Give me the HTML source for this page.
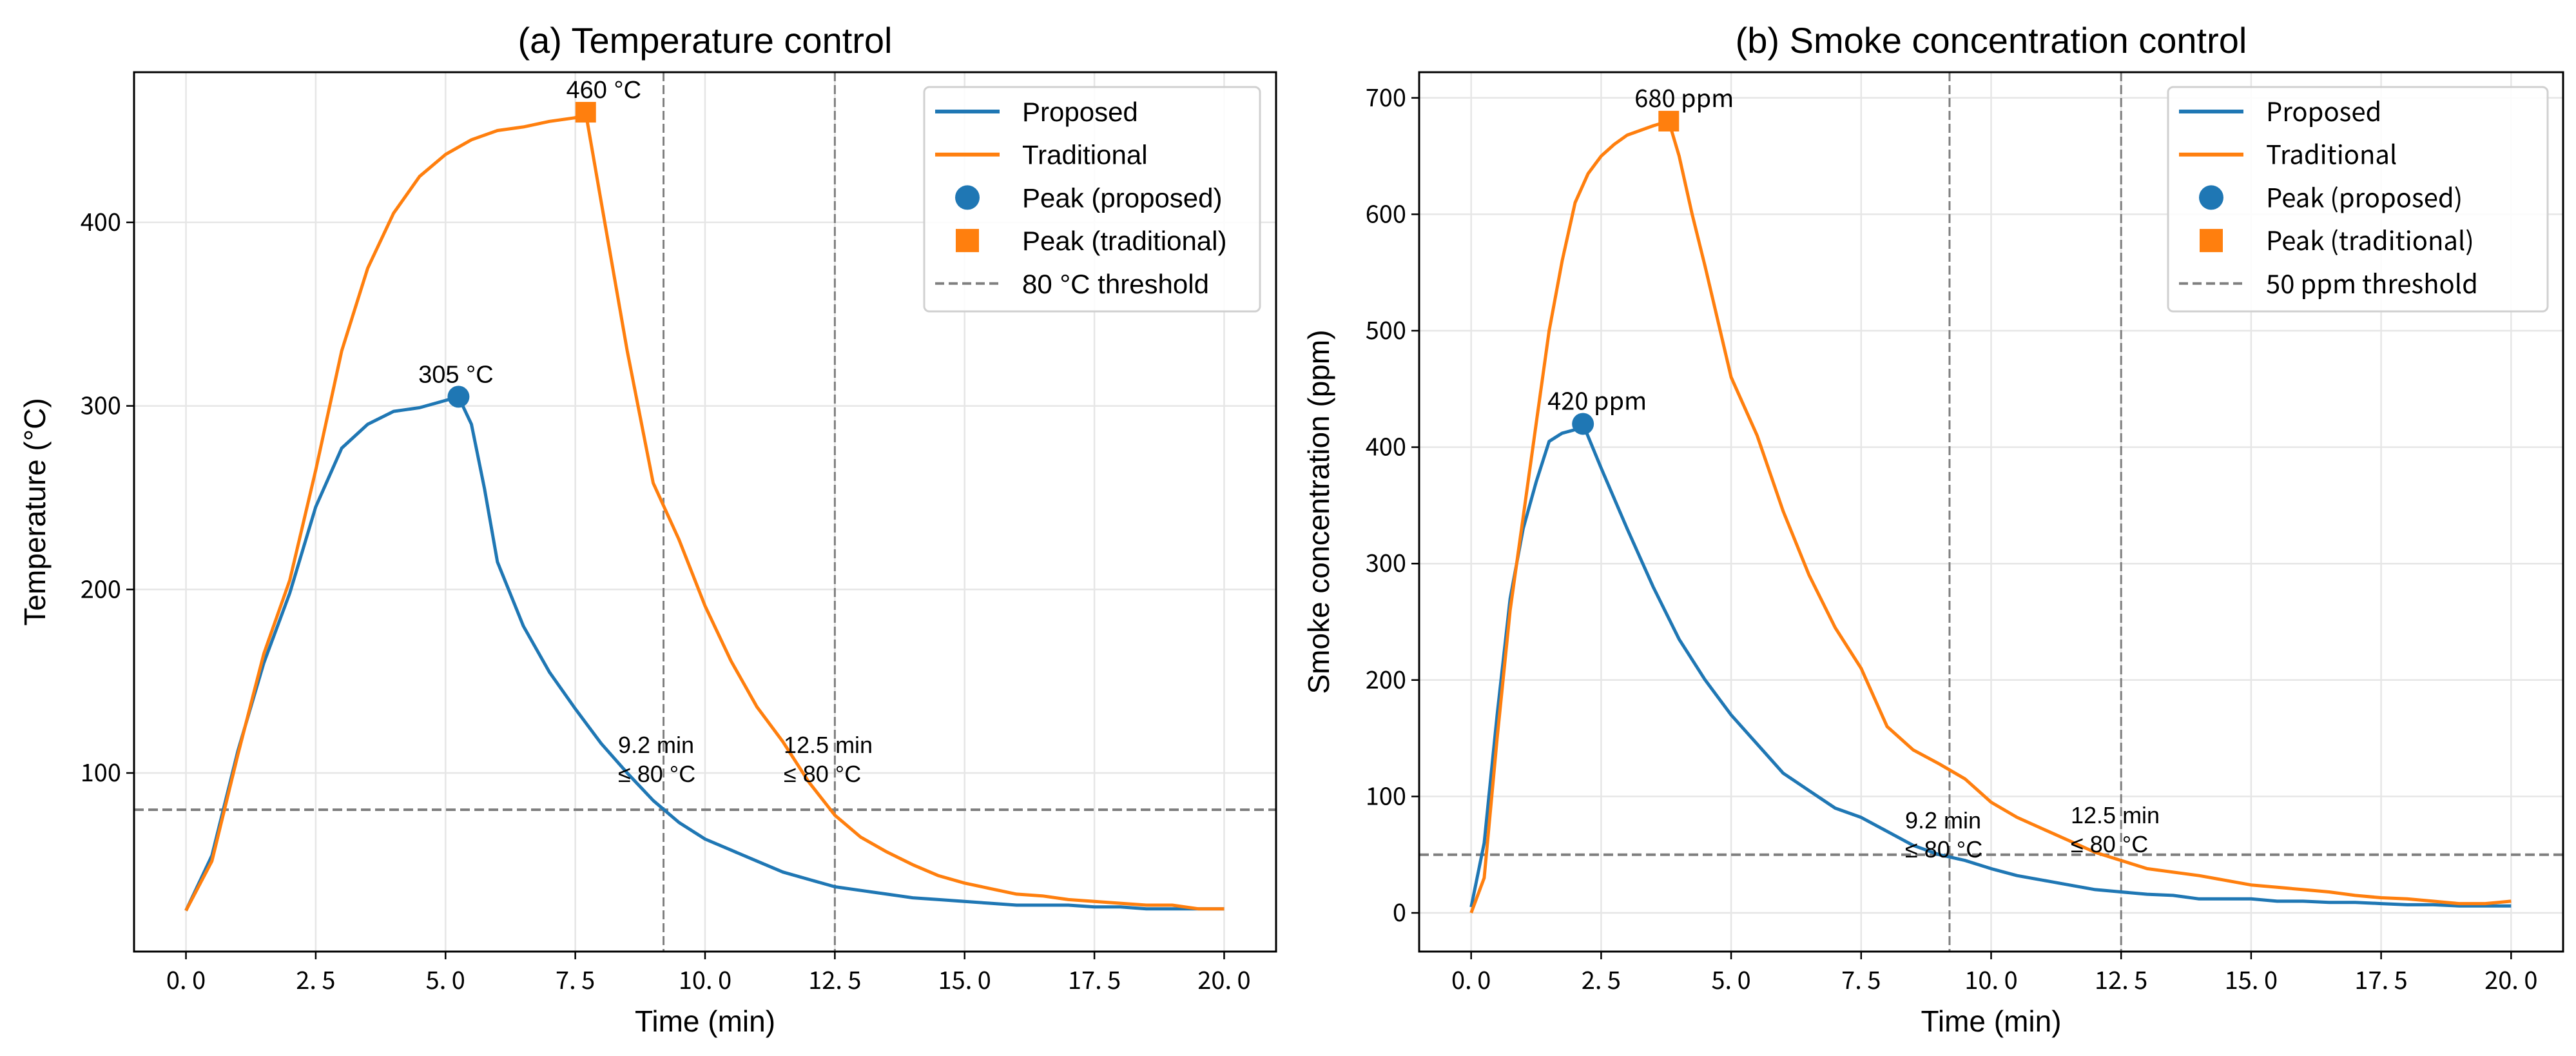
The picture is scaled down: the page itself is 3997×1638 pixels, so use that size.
<!DOCTYPE html>
<html><head><meta charset="utf-8"><style>
html,body{margin:0;padding:0;background:#fff;}
svg{display:block;}
text{font-family:"Liberation Sans","Noto Sans CJK SC",sans-serif;fill:#000;}
.cjk{font-family:"WenQuanYi Zen Hei","Noto Sans CJK SC",sans-serif;}
</style></head><body>
<svg id="chart" width="3997" height="1638" viewBox="0 0 3997 1638" xmlns="http://www.w3.org/2000/svg"></svg>
<script>
// ---- data ----
const tA = [0,0.5,1,1.5,2,2.5,3,3.5,4,4.5,5,5.25,5.5,5.75,6,6.5,7,7.5,8,8.5,9,9.5,10,10.5,11,11.5,12,12.5,13,13.5,14,14.5,15,15.5,16,16.5,17,17.5,18,18.5,19,19.5,20];
const tempProposed = [25,55,112,160,198,245,277,290,297,299,303,305,290,255,215,180,155,135,116,100,85,73,64,58,52,46,42,38,36,34,32,31,30,29,28,28,28,27,27,26,26,26,26];
const tB = [0,0.5,1,1.5,2,2.5,3,3.5,4,4.5,5,5.5,6,6.5,7,7.5,7.7,8,8.5,9,9.5,10,10.5,11,11.5,12,12.5,13,13.5,14,14.5,15,15.5,16,16.5,17,17.5,18,18.5,19,19.5,20];
const tempTraditional = [25,52,110,165,205,265,330,375,405,425,437,445,450,452,455,457,460,411,330,258,227,191,161,136,117,95,77,65,57,50,44,40,37,34,33,31,30,29,28,28,26,26];
const tC = [0,0.25,0.5,0.75,1,1.25,1.5,1.75,2,2.15,2.5,3,3.5,4,4.5,5,5.5,6,6.5,7,7.5,8,8.5,9,9.5,10,10.5,11,11.5,12,12.5,13,13.5,14,14.5,15,15.5,16,16.5,17,17.5,18,18.5,19,19.5,20];
const smokeProposed = [5,60,170,270,330,370,405,412,415,420,382,330,280,235,200,170,145,120,105,90,82,70,58,50,45,38,32,28,24,20,18,16,15,12,12,12,10,10,9,9,8,7,7,6,6,6];
const tD = [0,0.25,0.5,0.75,1,1.25,1.5,1.75,2,2.25,2.5,2.75,3,3.25,3.5,3.8,4,4.25,4.5,5,5.5,6,6.5,7,7.5,8,8.5,9,9.5,10,10.5,11,11.5,12,12.5,13,13.5,14,14.5,15,15.5,16,16.5,17,17.5,18,18.5,19,19.5,20];
const smokeTraditional = [0,30,150,260,340,420,500,560,610,635,650,660,668,672,676,680,650,600,555,460,410,345,290,245,210,160,140,128,115,95,82,72,62,52,45,38,35,32,28,24,22,20,18,15,13,12,10,8,8,10];
const xTicks = [0,2.5,5,7.5,10,12.5,15,17.5,20];
const yTicksA = [100,200,300,400];
const yTicksB = [0,100,200,300,400,500,600,700];

const NS="http://www.w3.org/2000/svg";
const svg=document.getElementById('chart');
function mk(tag,attrs,parent,txt){const e=document.createElementNS(NS,tag);for(const k in attrs)e.setAttribute(k,attrs[k]);if(txt!==undefined)e.textContent=txt;(parent||svg).appendChild(e);return e;}
const BLUE="#1f77b4",ORANGE="#ff7f0e";

function panel(o){
  const g=mk('g',{});
  
  
  const X=v=>o.x0+(v-o.xmin)*(o.x1-o.x0)/(o.xmax-o.xmin);
  const Y=v=>o.y1-(v-o.ymin)*(o.y1-o.y0)/(o.ymax-o.ymin);
  xTicks.forEach(t=>{const l=mk('line',{x1:X(t),x2:X(t),y1:o.y0,y2:o.y1,stroke:'#e6e6e6','stroke-width':2.5},g);
    });
  o.yt.forEach(t=>{const l=mk('line',{x1:o.x0,x2:o.x1,y1:Y(t),y2:Y(t),stroke:'#e6e6e6','stroke-width':2.5},g);
    });
  [9.2,12.5].forEach(t=>{const l=mk('line',{x1:X(t),x2:X(t),y1:o.y0,y2:o.y1,stroke:'#7f7f7f','stroke-width':3,'stroke-dasharray':'14,6'},g);
    });
  const th=mk('line',{x1:o.x0,x2:o.x1,y1:Y(o.thr),y2:Y(o.thr),stroke:'#7f7f7f','stroke-width':4,'stroke-dasharray':'15,7'},g);
  
  function line(ts,vs,c,n){const p=mk('polyline',{points:ts.map((t,i)=>X(t).toFixed(1)+','+Y(vs[i]).toFixed(1)).join(' '),fill:'none',stroke:c,'stroke-width':5,'stroke-linejoin':'round'},g);
    }
  line(o.ta,o.va,BLUE,'proposed-line');
  line(o.tb,o.vb,ORANGE,'traditional-line');
  let ia=o.va.indexOf(Math.max(...o.va)), ib=o.vb.indexOf(Math.max(...o.vb));
  const c=mk('circle',{cx:X(o.ta[ia]),cy:Y(o.va[ia]),r:17,fill:BLUE},g);
  
  const s=mk('rect',{x:X(o.tb[ib])-16,y:Y(o.vb[ib])-16,width:32,height:32,fill:ORANGE},g);
  
  const pa=mk('text',{x:X(o.ta[ia])+o.paDx,y:Y(o.va[ia])-22,'font-size':38,'text-anchor':o.paAnchor,class:o.annCls},g,o.va[ia]+o.unit);
  
  const pb=mk('text',{x:X(o.tb[ib])+o.pbDx,y:Y(o.vb[ib])-22,'font-size':38,'text-anchor':o.pbAnchor,class:o.annCls},g,o.vb[ib]+o.unit);
  
  o.ann.forEach(a=>{const t1=mk('text',{x:a.x,y:a.y,'font-size':36},g,a.l1);
    
    const t2=mk('text',{x:a.x,y:a.y+45,'font-size':36},g,'≤ 80 °C');
    });
  const fr=mk('rect',{x:o.x0,y:o.y0,width:o.x1-o.x0,height:o.y1-o.y0,fill:'none',stroke:'#000','stroke-width':3},g);
  
  xTicks.forEach(t=>{mk('line',{x1:X(t),x2:X(t),y1:o.y1,y2:o.y1+12,stroke:'#000','stroke-width':2.5},g);
    const tx=mk('text',{x:X(t),y:o.y1+58,'font-size':38,'text-anchor':'middle',class:'cjk'},g,t.toFixed(1).replace('.','. '));
    });
  o.yt.forEach(t=>{mk('line',{x1:o.x0-12,x2:o.x0,y1:Y(t),y2:Y(t),stroke:'#000','stroke-width':2.5},g);
    const tx=mk('text',{x:o.x0-20,y:Y(t)+13,'font-size':38,'text-anchor':'end',class:'cjk'},g,String(t));
    });
  const ti=mk('text',{x:(o.x0+o.x1)/2,y:82,'font-size':56,'text-anchor':'middle'},g,o.title);
  
  const xl=mk('text',{x:(o.x0+o.x1)/2,y:1600,'font-size':46,'text-anchor':'middle'},g,'Time (min)');
  
  const yl=mk('text',{x:0,y:0,'font-size':46,'text-anchor':'middle',transform:`translate(${o.ylx},${(o.y0+o.y1)/2}) rotate(-90)`},g,o.ylabel);
  
  const lg=mk('g',{},g);
  
  mk('rect',{x:o.lx,y:135,width:o.lw,height:348,rx:8,fill:'#fff','fill-opacity':0.85,stroke:'#d0d0d0','stroke-width':3},lg);
  const rows=[['line',BLUE,'Proposed'],['line',ORANGE,'Traditional'],['dot',BLUE,'Peak (proposed)'],['sq',ORANGE,'Peak (traditional)'],['dash','#7f7f7f',o.thrLabel]];
  rows.forEach((r,i)=>{const cy=173+i*66.7;const lx=o.lx+17,cx=lx+50;
    const e=mk('g',{},lg);
    if(r[0]==='line')mk('line',{x1:lx,x2:lx+100,y1:cy,y2:cy,stroke:r[1],'stroke-width':6},e);
    if(r[0]==='dot')mk('circle',{cx:cx,cy:cy,r:19,fill:r[1]},e);
    if(r[0]==='sq')mk('rect',{x:cx-18,y:cy-18,width:36,height:36,fill:r[1]},e);
    if(r[0]==='dash')mk('line',{x1:lx,x2:lx+100,y1:cy,y2:cy,stroke:r[1],'stroke-width':4,'stroke-dasharray':'14,7'},e);
    mk('text',{x:lx+135,y:cy+15,'font-size':o.legFs,class:o.legCls},e,r[2]);});
}

panel({name:'temperature-panel',title:'(a) Temperature control',ylabel:'Temperature (°C)',unit:' °C',
  x0:208,x1:1980,y0:112,y1:1476,xmin:-1,xmax:21,ymin:100-(1476-1199)/2.847,ymax:100+(1199-112)/2.847,
  yt:yTicksA,thr:80,thrLabel:'80 °C threshold',ta:tA,va:tempProposed,tb:tB,vb:tempTraditional,
  paDx:-4,paAnchor:'middle',pbDx:28,pbAnchor:'middle',annCls:'',ylx:70,
  ann:[{x:959,y:1168,l1:'9.2 min'},{x:1216,y:1168,l1:'12.5 min'}],
  lx:1434,lw:521,legFs:42,legCls:''});
panel({name:'smoke-panel',title:'(b) Smoke concentration control',ylabel:'Smoke concentration (ppm)',unit:' ppm',
  x0:2202,x1:3977,y0:112,y1:1476,xmin:-1,xmax:21,ymin:-(1476-1416)/1.806,ymax:(1416-112)/1.806,
  yt:yTicksB,thr:50,thrLabel:'50 ppm threshold',ta:tC,va:smokeProposed,tb:tD,vb:smokeTraditional,
  paDx:-55,paAnchor:'start',pbDx:-53,pbAnchor:'start',annCls:'cjk',ylx:2062,
  ann:[{x:2956,y:1285,l1:'9.2 min'},{x:3213,y:1277,l1:'12.5 min'}],
  lx:3364,lw:589,legFs:40,legCls:'cjk'});
</script>
</body></html>
